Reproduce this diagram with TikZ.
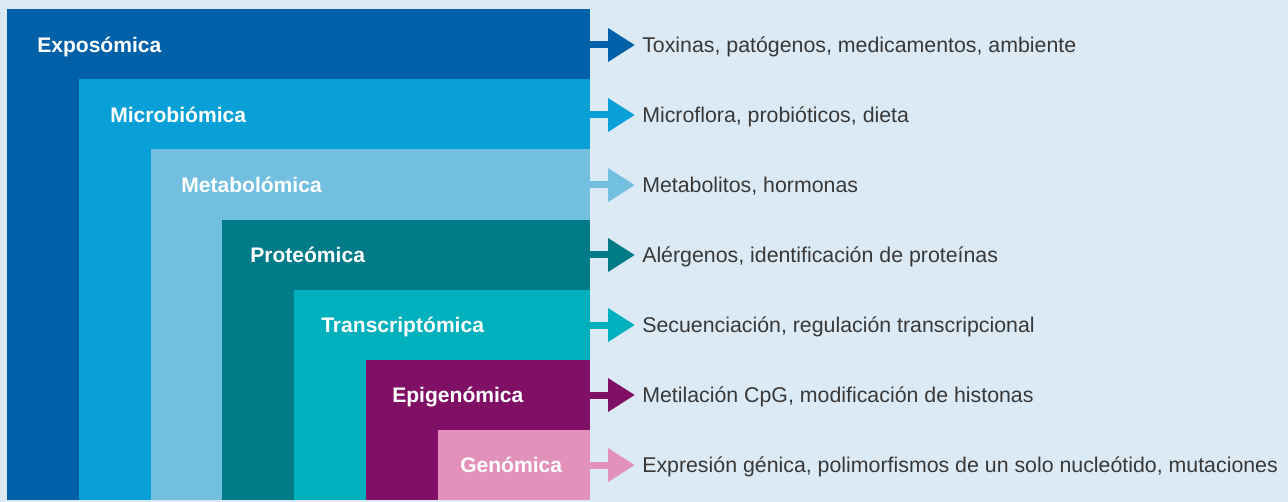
\documentclass[tikz,border=0pt]{standalone}
\usepackage{fontspec}
\setmainfont{Liberation Sans}
\usetikzlibrary{arrows.meta,positioning,fit}
\definecolor{bg}{RGB}{219,234,245}
\definecolor{cexpo}{RGB}{0,96,168}
\definecolor{cmicro}{RGB}{9,160,216}
\definecolor{cmeta}{RGB}{114,191,224}
\definecolor{cprot}{RGB}{0,123,135}
\definecolor{ctrans}{RGB}{0,176,188}
\definecolor{cepi}{RGB}{127,16,101}
\definecolor{cgen}{RGB}{226,145,187}
\colorlet{txt}{black!78}
\tikzset{lyr/.style={fill=#1, draw=none, inner sep=0pt},
         lbl/.style={anchor=west, inner sep=0pt, text=white,
            text height=11.3pt, text depth=0pt,
            font=\fontsize{15.8}{18}\selectfont\bfseries},
         itm/.style={anchor=west, inner sep=0pt, text=txt,
            text height=11.5pt, text depth=0pt,
            font=\fontsize{16}{19}\selectfont},
         arr/.style={draw=#1, line width=5.25pt,
            -{Triangle[length=20.25pt, width=24pt]}, shorten >=5.25pt}}

\begin{document}
\begin{tikzpicture}[x=0.75pt, y=-0.75pt]
\fill[bg] (0,0) rectangle (1288,502);
\useasboundingbox (0,0) rectangle (1288,502);
% nested layers
\node[lyr=cexpo, fit={(7,9) (590,500)}] (expo) {};
\node[lyr=cmicro, fit={(79,79) (590,500)}] (micro) {};
\node[lyr=cmeta, fit={(151,149) (590,500)}] (meta) {};
\node[lyr=cprot, fit={(222,220) (590,500)}] (prot) {};
\node[lyr=ctrans, fit={(294,290) (590,500)}] (trans) {};
\node[lyr=cepi, fit={(366,360) (590,500)}] (epi) {};
\node[lyr=cgen, fit={(438,430) (590,500)}] (gen) {};
% layer names
\node[lbl] (expol) at (37,45) {Exposómica};
\node[lbl] (microl) at (110,115) {Microbiómica};
\node[lbl] (metal) at (181,185) {Metabolómica};
\node[lbl] (protl) at (250,255) {Proteómica};
\node[lbl] (transl) at (321,325) {Transcriptómica};
\node[lbl] (epil) at (392,395) {Epigenómica};
\node[lbl] (genl) at (460,465) {Genómica};
% items
\node[itm] (expot) at (642,45) {Toxinas, patógenos, medicamentos, ambiente};
\node[itm] (microt) at (642,115) {Microflora, probióticos, dieta};
\node[itm] (metat) at (642,185) {Metabolitos, hormonas};
\node[itm] (prott) at (642,255) {Alérgenos, identificación de proteínas};
\node[itm] (transt) at (642,325) {Secuenciación, regulación transcripcional};
\node[itm] (epit) at (642,395) {Metilación CpG, modificación de histonas};
\node[itm] (gent) at (642,465) {Expresión génica, polimorfismos de un solo nucleótido, mutaciones};
% arrows
\draw[arr=cexpo] (expol -| expo.east) -- (expot.west);
\draw[arr=cmicro] (microl -| micro.east) -- (microt.west);
\draw[arr=cmeta] (metal -| meta.east) -- (metat.west);
\draw[arr=cprot] (protl -| prot.east) -- (prott.west);
\draw[arr=ctrans] (transl -| trans.east) -- (transt.west);
\draw[arr=cepi] (epil -| epi.east) -- (epit.west);
\draw[arr=cgen] (genl -| gen.east) -- (gent.west);
\end{tikzpicture}
\end{document}
